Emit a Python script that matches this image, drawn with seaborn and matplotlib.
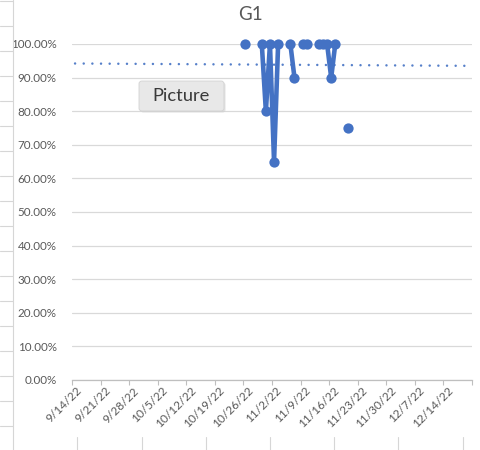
import numpy as np
import pandas as pd
import matplotlib
matplotlib.use("Agg")
import matplotlib.pyplot as plt
import matplotlib.dates as mdates
from matplotlib.lines import Line2D
from matplotlib.patches import FancyBboxPatch
import seaborn as sns

# ---- data -------------------------------------------------------------
dates = ["2022-10-26", "2022-10-27", "2022-10-28", "2022-10-29", "2022-10-30",
         "2022-10-31", "2022-11-01", "2022-11-02", "2022-11-03", "2022-11-04",
         "2022-11-05", "2022-11-06", "2022-11-07", "2022-11-08", "2022-11-09",
         "2022-11-10", "2022-11-11", "2022-11-12", "2022-11-13", "2022-11-14",
         "2022-11-15", "2022-11-16", "2022-11-17", "2022-11-18", "2022-11-19",
         "2022-11-20"]
g1_values = [1.00, np.nan, np.nan, np.nan, 1.00,
             0.80, 1.00, 0.65, 1.00, np.nan,
             np.nan, 1.00, 0.90, np.nan, 1.00,
             1.00, np.nan, np.nan, 1.00, 1.00,
             1.00, 0.90, 1.00, np.nan, np.nan,
             0.75]
trend_values = [0.942, 0.935]          # trendline at axis start / end
axis_start = "2022-09-14"
axis_end = "2022-12-21"
tick_labels = ["9/14/22", "9/21/22", "9/28/22", "10/5/22", "10/12/22",
               "10/19/22", "10/26/22", "11/2/22", "11/9/22", "11/16/22",
               "11/23/22", "11/30/22", "12/7/22", "12/14/22"]
y_ticks = [0.0, 0.1, 0.2, 0.3, 0.4, 0.5, 0.6, 0.7, 0.8, 0.9, 1.0]

# ---- styling ----------------------------------------------------------
sns.set_theme(style="white")
plt.rcParams["font.family"] = ["Lato", "DejaVu Sans"]

BLUE = "#4472C4"
TXT = "#595959"
GRID = "#D9D9D9"
SHEET = "#D6D6D6"

W, H = 481, 450
fig = plt.figure(figsize=(W / 100, H / 100), dpi=100)
fig.patch.set_facecolor("white")

def px(x, y):
    """pixel position (from top-left) -> figure fraction"""
    return x / W, 1 - y / H

# spreadsheet cells peeking around the chart object
fig.add_artist(Line2D([13 / W, 13 / W], [0, 1], color=SHEET, lw=0.8))
for yy in range(1, 450, 25):
    fig.add_artist(Line2D([0, 13 / W], [1 - yy / H] * 2, color=SHEET, lw=0.8))
for xx in [77, 142, 206, 270, 334, 398, 463]:
    fig.add_artist(Line2D([xx / W] * 2, [0, 1 - 437 / H], color=SHEET, lw=0.8))

ax = fig.add_axes([72 / W, 70 / H, 400 / W, 336 / H])
ax.set_facecolor("white")

# ---- series -----------------------------------------------------------
df = pd.DataFrame({"date": pd.to_datetime(dates), "G1": g1_values})
# break the line wherever a day is missing
df["run"] = df["G1"].isna().cumsum()
df = df.dropna(subset=["G1"])
sns.lineplot(data=df, x="date", y="G1", units="run", estimator=None,
             color=BLUE, lw=3.3, marker="o", markersize=7.4,
             markeredgewidth=0, ax=ax, clip_on=False, zorder=3)

x0 = pd.Timestamp(axis_start) - pd.Timedelta(hours=12)
x1 = pd.Timestamp(axis_end) - pd.Timedelta(hours=12)
ax.plot([x0 + pd.Timedelta(hours=18), x1 - pd.Timedelta(hours=18)],
        trend_values, color=BLUE, lw=1.8, linestyle=(0, (0.01, 3.45)),
        dash_capstyle="round", zorder=2, alpha=0.9)

ax.set_xlim(x0, x1)
ax.set_ylim(0, 1.0)

# ---- axes -------------------------------------------------------------
ax.set_yticks(y_ticks)
ax.set_yticklabels([f"{v * 100:.2f}%" for v in y_ticks])
ax.tick_params(axis="y", length=0, pad=11, labelsize=8.4, labelcolor=TXT)
ax.yaxis.grid(True, color=GRID, lw=0.9)

tick_pos = pd.date_range(axis_start, axis_end, freq="7D") - pd.Timedelta(hours=12)
ax.set_xticks(tick_pos)
ax.set_xticklabels([])
ax.tick_params(axis="x", length=3.5, width=0.8, color="#BFBFBF",
               direction="out", bottom=True)
for lbl, t in zip(tick_labels, tick_pos[:-1]):
    ax.annotate(lbl, xy=(mdates.date2num(t), 0), xycoords=("data", "axes fraction"),
                xytext=(8, -9), textcoords="offset pixels",
                rotation=45, rotation_mode="anchor", ha="right", va="center",
                fontsize=8.6, color=TXT)

for side in ["left", "top", "right"]:
    ax.spines[side].set_visible(False)
ax.spines["bottom"].set_color("#BFBFBF")
ax.spines["bottom"].set_linewidth(0.9)
ax.set_xlabel("")
ax.set_ylabel("")

fig.text(*px(250.5, 15), "G1", ha="center", va="center",
         fontsize=13.5, color=TXT)

# floating "Picture" button over the chart
bx, by, bw, bh = px(139, 111)[0], px(139, 111)[1], 85 / W, 30 / H
fig.add_artist(FancyBboxPatch((bx + 1.5 / W, by - 1.5 / H), bw, bh,
                              boxstyle="round,pad=0,rounding_size=0.006",
                              transform=fig.transFigure, facecolor="#CFCFCF",
                              edgecolor="none", alpha=0.6, zorder=9))
fig.add_artist(FancyBboxPatch((bx, by), bw, bh,
                              boxstyle="round,pad=0,rounding_size=0.006",
                              transform=fig.transFigure, facecolor="#E8E8E8",
                              edgecolor="#D2D2D2", lw=0.6, zorder=10))
fig.text(*px(181.5, 96), "Picture", ha="center", va="center",
         fontsize=13.2, color="#3A3A3A", zorder=11)

fig.savefig("out.png", dpi=100)
